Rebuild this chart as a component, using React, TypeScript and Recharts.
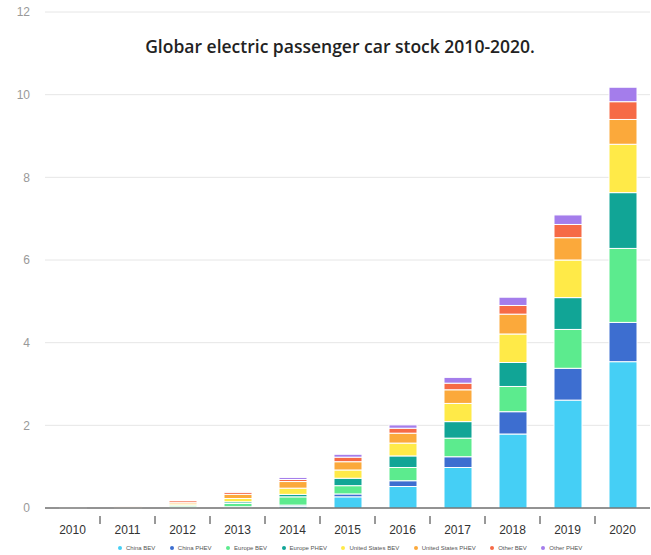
import React from "react";
import { Bar, BarChart, CartesianGrid, Legend, XAxis, YAxis } from "recharts";

const years = ["2010", "2011", "2012", "2013", "2014", "2015", "2016", "2017", "2018", "2019", "2020"];

// million vehicles
const chinaBev = [0.001, 0.005, 0.01, 0.02, 0.04, 0.27, 0.52, 0.98, 1.79, 2.61, 3.54];
const chinaPhev = [0, 0, 0.01, 0.01, 0.03, 0.07, 0.14, 0.26, 0.54, 0.77, 0.95];
const europeBev = [0.002, 0.01, 0.03, 0.08, 0.2, 0.2, 0.32, 0.45, 0.61, 0.94, 1.79];
const europePhev = [0, 0.005, 0.02, 0.04, 0.06, 0.18, 0.28, 0.4, 0.58, 0.77, 1.35];
const usBev = [0.003, 0.01, 0.03, 0.08, 0.15, 0.2, 0.31, 0.44, 0.69, 0.91, 1.17];
const usPhev = [0, 0.01, 0.04, 0.1, 0.16, 0.2, 0.24, 0.33, 0.48, 0.54, 0.6];
const otherBev = [0.003, 0.015, 0.04, 0.05, 0.05, 0.11, 0.12, 0.16, 0.21, 0.32, 0.43];
const otherPhev = [0, 0.005, 0.01, 0.02, 0.05, 0.07, 0.08, 0.14, 0.2, 0.23, 0.35];

const yTicks = [0, 2, 4, 6, 8, 10, 12];

const series = [
  { key: "chinaBev", name: "China BEV", color: "#45cff5", values: chinaBev },
  { key: "chinaPhev", name: "China PHEV", color: "#3d6ed0", values: chinaPhev },
  { key: "europeBev", name: "Europe BEV", color: "#5ceb8e", values: europeBev },
  { key: "europePhev", name: "Europe PHEV", color: "#11a596", values: europePhev },
  { key: "usBev", name: "United States BEV", color: "#ffea48", values: usBev },
  { key: "usPhev", name: "United States PHEV", color: "#fba93b", values: usPhev },
  { key: "otherBev", name: "Other BEV", color: "#f66a46", values: otherBev },
  { key: "otherPhev", name: "Other PHEV", color: "#a47deb", values: otherPhev },
];

const data = years.map((year, i) => {
  const row: Record<string, number | string> = { year };
  series.forEach((s) => {
    row[s.key] = s.values[i];
  });
  return row;
});

const BAND = 55;

const YearTick = ({ x, y, payload, index }: any) => (
  <g>
    {index < years.length - 1 && (
      <line x1={x + BAND / 2} y1={y} x2={x + BAND / 2} y2={y + 8} stroke="#333" strokeWidth={1} />
    )}
    <text x={x} y={y + 18} textAnchor="middle" fill="#333" fontSize={12} fontFamily="Liberation Sans, Arial, sans-serif">
      {payload.value}
    </text>
  </g>
);

const LegendRow = () => (
  <div
    style={{
      height: 14,
      display: "flex",
      alignItems: "center",
      paddingLeft: 118,
      fontFamily: "Liberation Sans Narrow, Liberation Sans, sans-serif",
      fontSize: 6,
      color: "#555",
    }}
  >
    {series.map((s) => (
      <div key={s.key} style={{ display: "flex", alignItems: "center", marginRight: 14.5 }}>
        <span
          style={{
            width: 4,
            height: 4,
            borderRadius: 2,
            background: s.color,
            display: "inline-block",
            marginRight: 4,
          }}
        />
        {s.name}
      </div>
    ))}
  </div>
);

export default function App() {
  return (
    <div style={{ position: "absolute", left: 0, top: 0, width: 651, height: 555, background: "#fff" }}>
      <BarChart width={651} height={555} data={data} margin={{ top: 12, right: 1, bottom: 0, left: 0 }} barSize={28}>
        <CartesianGrid vertical={false} stroke="#e6e6e6" />
        <YAxis
          domain={[0, 12]}
          ticks={yTicks}
          width={45}
          axisLine={false}
          tickLine={false}
          tickMargin={9}
          tick={{ fill: "#999", fontSize: 12, fontFamily: "Liberation Sans, Arial, sans-serif" }}
        />
        <XAxis
          dataKey="year"
          height={33}
          axisLine={{ stroke: "#333" }}
          tickLine={false}
          interval={0}
          tick={<YearTick />}
        />
        <Legend verticalAlign="bottom" content={<LegendRow />} />
        {series.map((s) => (
          <Bar
            key={s.key}
            dataKey={s.key}
            name={s.name}
            stackId="stock"
            fill={s.color}
            stroke="#fff"
            strokeWidth={1}
            isAnimationActive={false}
          />
        ))}
      </BarChart>
      <div
        style={{
          position: "absolute",
          top: 34,
          left: 120,
          width: 440,
          textAlign: "center",
          fontFamily: "Open Sans, sans-serif",
          fontSize: 17.5,
          fontWeight: 600,
          color: "#222",
          whiteSpace: "nowrap",
        }}
      >
        Globar electric passenger car stock 2010-2020.
      </div>
    </div>
  );
}
